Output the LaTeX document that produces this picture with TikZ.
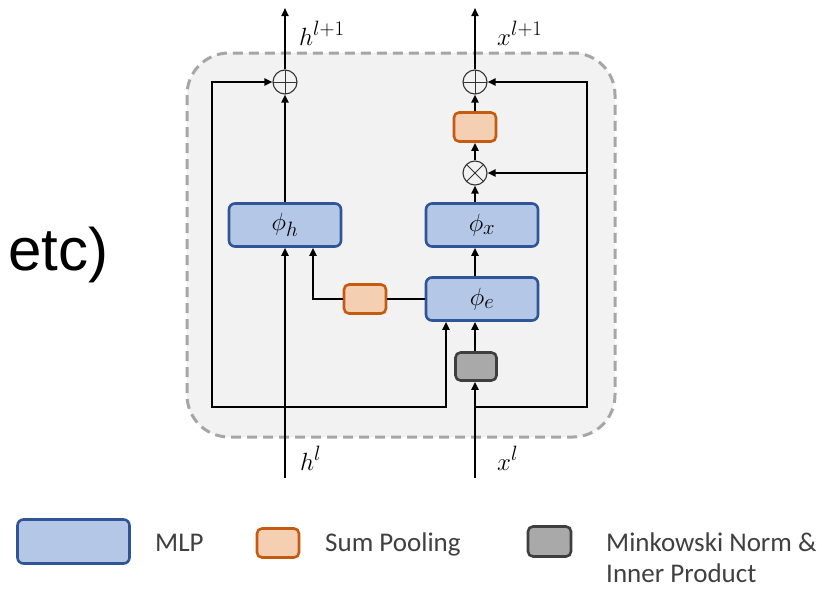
\documentclass[tikz,border=0pt]{standalone}
\usepackage{fontspec}
\newfontfamily\legfont{Carlito}
\newfontfamily\etcfont{Liberation Sans}
\usetikzlibrary{arrows.meta,calc}
\definecolor{mlpfill}{HTML}{B4C7E7}
\definecolor{mlpdraw}{HTML}{2F5597}
\definecolor{poolfill}{HTML}{F4CFB2}
\definecolor{pooldraw}{HTML}{C55A11}
\definecolor{minkfill}{HTML}{A9A9A9}
\definecolor{minkdraw}{HTML}{3F3F3F}
\definecolor{framefill}{HTML}{F2F2F2}
\definecolor{framedraw}{HTML}{A6A6A6}
\definecolor{legtext}{HTML}{404040}
\begin{document}
\begin{tikzpicture}[x=1pt,y=-1pt,
  mlp/.style={draw=mlpdraw,fill=mlpfill,line width=2.6pt,rounded corners=6pt,minimum width=112pt,minimum height=43pt,inner sep=0pt,font=\fontsize{32}{36}\selectfont},
  pool/.style={draw=pooldraw,fill=poolfill,line width=2.6pt,rounded corners=5pt,minimum width=42pt,minimum height=29pt,inner sep=0pt},
  mink/.style={draw=minkdraw,fill=minkfill,line width=2.6pt,rounded corners=5pt,minimum width=41pt,minimum height=28pt,inner sep=0pt},
  opnode/.style={circle,draw=black!80,line width=1.1pt,minimum size=24pt,inner sep=0pt,fill=framefill},
  conn/.style={line width=1.8pt,black},
  arr/.style={conn,-{Triangle[length=8pt,width=7pt]}},
  mathlab/.style={font=\fontsize{32}{36}\selectfont,inner sep=0pt},
  leglab/.style={font=\legfont\fontsize{27}{32}\selectfont,text=legtext,inner sep=0pt,anchor=base west}
]
\useasboundingbox (0,0) rectangle (822,589);
\fill[white] (0,0) rectangle (822,589);

% frame
\draw[framedraw,fill=framefill,line width=3pt,dash pattern=on 10pt off 6pt,rounded corners=42pt] (187,53) rectangle (615,437);

% etc)
\node[font=\etcfont\fontsize{60}{64}\selectfont,anchor=base west,inner sep=0pt] (etc) at (8,270) {etc)};

% nodes
\node[mlp] (phih) at (285,225) {$\phi_h$};
\node[mlp] (phix) at (482,225) {$\phi_x$};
\node[mlp] (phie) at (482,299) {$\phi_e$};
\node[pool] (poolA) at (475,127) {};
\node[pool] (poolB) at (365,299) {};
\node[mink] (mk) at (476,366.5) {};
\node[opnode,path picture={\draw[line width=1pt,black!80] (path picture bounding box.north) -- (path picture bounding box.south) (path picture bounding box.west) -- (path picture bounding box.east);}] (plusH) at (285,82) {};
\node[opnode,path picture={\draw[line width=1pt,black!80] (path picture bounding box.north) -- (path picture bounding box.south) (path picture bounding box.west) -- (path picture bounding box.east);}] (plusX) at (475,82) {};
\node[opnode,path picture={\draw[line width=1pt,black!80] (path picture bounding box.north west) -- (path picture bounding box.south east) (path picture bounding box.south west) -- (path picture bounding box.north east);}] (times) at (475,173) {};

\node[mathlab,anchor=base west] (hout) at (299,45) {$h^{l+1}$};
\node[mathlab,anchor=base west] (xout) at (497,45) {$x^{l+1}$};
\node[mathlab,anchor=base west] (hin) at (300,470) {$h^{l}$};
\node[mathlab,anchor=base west] (xin) at (497,470) {$x^{l}$};

% coordinates
\coordinate (hbot) at (285,478);
\coordinate (xbot) at (475,478);
\coordinate (htop) at (285,8);
\coordinate (xtop) at (475,8);
\coordinate (hbr) at (285,407);
\coordinate (xbr) at (475,407);
\coordinate (lcol) at (212,407);
\coordinate (rcol) at (587,407);
\coordinate (ecol) at (446,407);
\coordinate (pcol) at (313,299);
\coordinate (xc) at (475,0);

% connectors, h column
\draw[arr] (hbot) -- (phih.south -| hbot);
\draw[arr] (phih.north -| hbot) -- (plusH.south);
\draw[arr] (plusH.north) -- (htop);
\draw[arr] (hbr) -- (lcol) |- (plusH.west);
\draw[arr] (hbr) -- (ecol) -- (ecol |- phie.south);
\draw[conn] (phie.west) -- (poolB.east);
\draw[arr] (poolB.west) -- (pcol) -- (pcol |- phih.south);

% x column
\draw[arr] (xbot) -- (mk.south -| xc);
\draw[arr] (mk.north -| xc) -- (phie.south -| xc);
\draw[arr] (phie.north -| xc) -- (phix.south -| xc);
\draw[arr] (phix.north -| xc) -- (times.south);
\draw[arr] (times.north) -- (poolA.south);
\draw[arr] (poolA.north) -- (plusX.south);
\draw[arr] (plusX.north) -- (xtop);
\draw[arr] (xbr) -- (rcol) |- (plusX.east);
\draw[arr] (rcol |- times) -- (times.east);

% legend
\node[mlp,minimum width=112pt,minimum height=44pt] (legmlp) at (73.5,541.5) {};
\node[leglab] (legmlpt) at (155,551) {MLP};
\node[pool] (legpool) at (278,543) {};
\node[leglab] (legpoolt) at (325,551) {Sum Pooling};
\node[mink,minimum width=43pt,minimum height=30pt] (legmink) at (549.5,541.5) {};
\node[leglab] (legminkt) at (606,551) {Minkowski Norm \&};
\node[leglab] (legminkt2) at (606,582) {Inner Product};
\end{tikzpicture}
\end{document}
